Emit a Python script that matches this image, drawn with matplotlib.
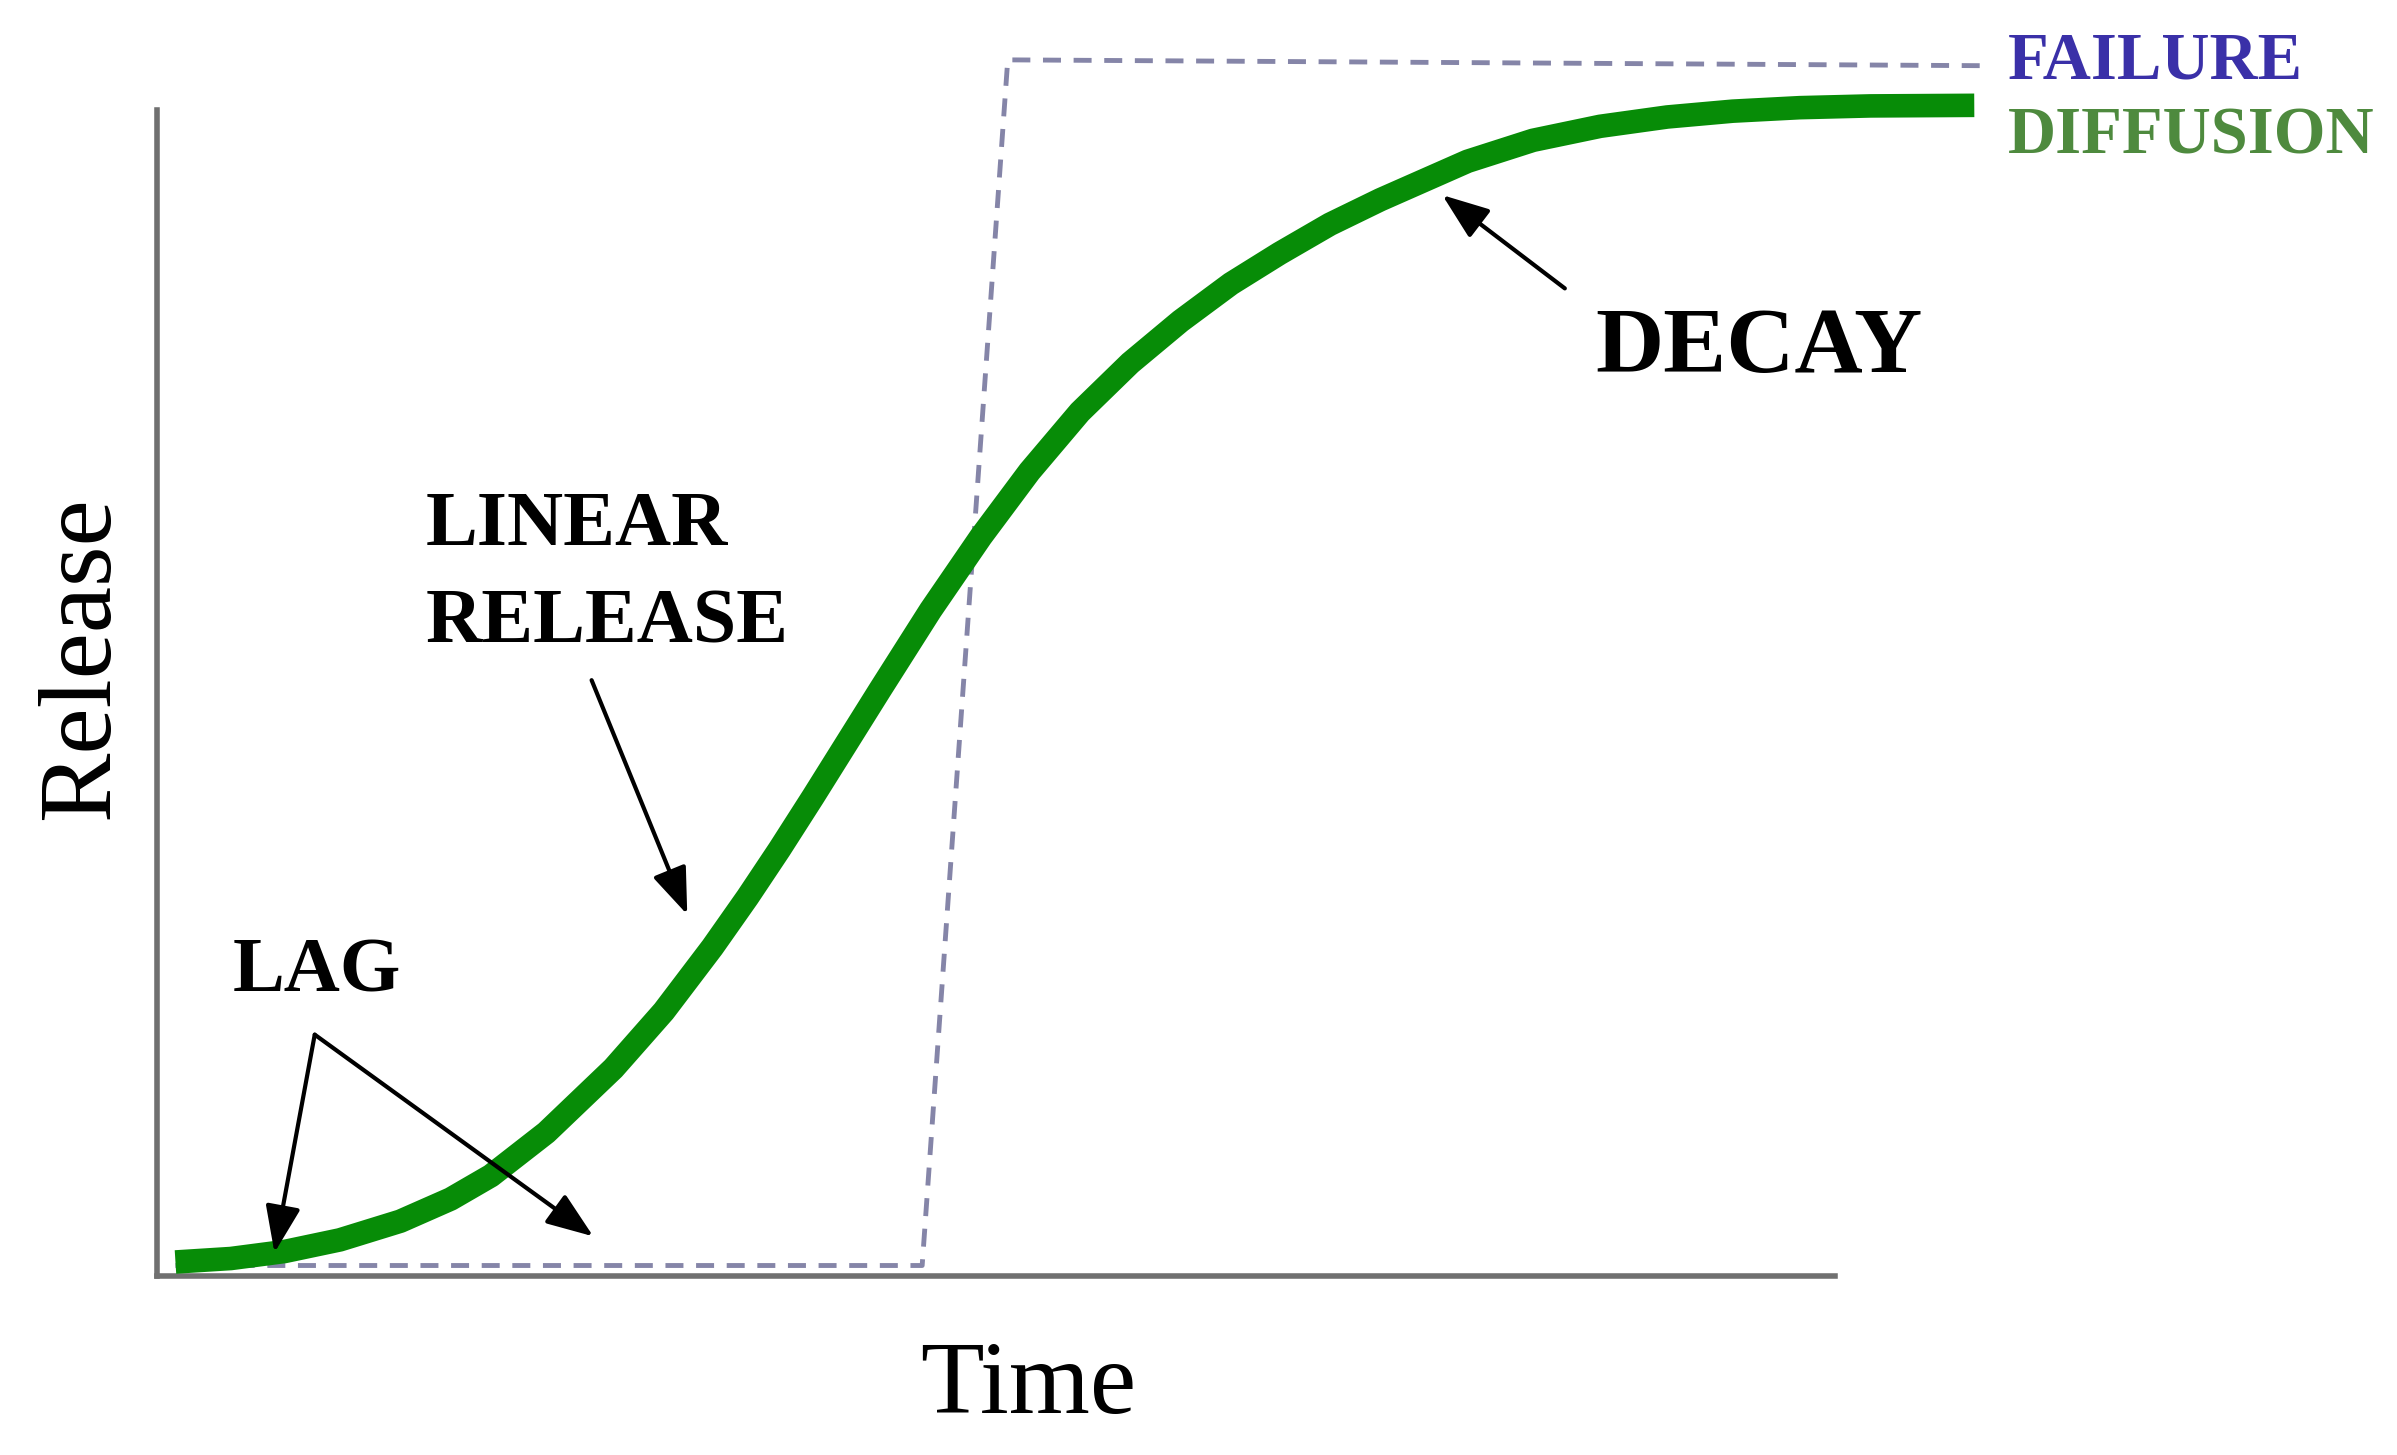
import numpy as np
import matplotlib
import matplotlib.pyplot as plt
matplotlib.use('Agg')

# diffusion curve (data units: axis spans 0..100 on both axes)
diff_t = [1.1, 4.4, 7.6, 10.9, 14.5, 17.5, 19.9, 23.2, 27.2, 30.2,
          33.1, 35.2, 37.1, 39.1, 41.1, 43.1, 46.1, 49.1, 52.0, 55.0,
          58.0, 61.0, 64.0, 66.9, 69.9, 72.9, 78.1, 82.0, 86.0, 90.0,
          93.9, 97.9, 102.1, 108.3]
diff_r = [1.2, 1.5, 2.1, 3.1, 4.7, 6.6, 8.6, 12.3, 17.8, 22.7,
          28.2, 32.5, 36.6, 41.1, 45.7, 50.3, 57.1, 63.4, 69.0, 74.1,
          78.3, 81.9, 85.1, 87.7, 90.2, 92.3, 95.6, 97.4, 98.6, 99.4,
          99.9, 100.2, 100.35, 100.4]

# failure (burst) profile
fail_t = [1.1, 45.6, 50.7, 108.8]
fail_r = [0.9, 0.9, 104.3, 103.8]

# annotation texts and arrows
labels = ['LAG', 'LINEAR', 'RELEASE', 'DECAY']
label_x = [4.5, 16.0, 16.0, 85.7]
label_y = [24.4, 62.7, 54.3, 77.5]
label_size = [56, 56, 56, 68]

arrow_from = [(9.4, 20.7), (9.4, 20.7), (25.9, 51.1), (83.9, 84.7)]
arrow_to = [(7.0, 2.0), (26.0, 3.4), (31.6, 31.0), (76.6, 92.7)]

legend_names = ['FAILURE', 'DIFFUSION']
legend_y = [102.7, 96.3]
legend_colors = ['#3a30a8', '#4e8a3e']

serif = 'Liberation Serif'

fig = plt.figure(figsize=(23.97, 14.55), dpi=100)
ax = fig.add_axes([157/2397, 1 - 1276/1455, (1835-157)/2397, (1276-110)/1455])
ax.set_xlim(0, 100)
ax.set_ylim(0, 100)
for side in ['top', 'right']:
    ax.spines[side].set_visible(False)
for side in ['left', 'bottom']:
    ax.spines[side].set_linewidth(4)
    ax.spines[side].set_color('#707070')
ax.set_xticks([])
ax.set_yticks([])

ax.plot(fail_t, fail_r, color='#8585a8', lw=3.5, linestyle=(0, (3.7, 2.6)),
        clip_on=False, zorder=2)
ax.plot(diff_t, diff_r, color='#078c07', lw=17, solid_capstyle='butt',
        solid_joinstyle='round', clip_on=False, zorder=3)

for a, b in zip(arrow_from, arrow_to):
    ax.annotate('', xy=b, xytext=a, annotation_clip=False,
                arrowprops=dict(arrowstyle='-|>,head_length=0.8,head_width=0.3',
                                mutation_scale=36, lw=3, color='black',
                                shrinkA=0, shrinkB=0), zorder=4)

for s, x, y, fs in zip(labels, label_x, label_y, label_size):
    ax.text(x, y, s, fontsize=fs, fontweight='bold', family=serif,
            ha='left', va='baseline', clip_on=False)

for s, y, c in zip(legend_names, legend_y, legend_colors):
    ax.text(110.3, y, s, fontsize=48, fontweight='bold', family=serif,
            color=c, ha='left', va='baseline', clip_on=False)

fig.text(1028/2397, 1 - 1413/1455, 'Time', fontsize=75, family=serif,
         ha='center', va='baseline')
fig.text(108/2397, 1 - 658/1455, 'Release', fontsize=75, family=serif,
         rotation=90, rotation_mode='anchor', ha='center', va='baseline')

plt.savefig('out.png', dpi=100, facecolor='white')
